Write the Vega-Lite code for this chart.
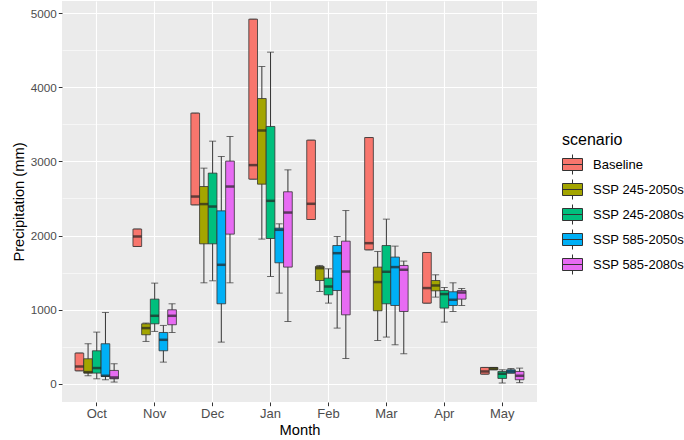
{
  "$schema": "https://vega.github.io/schema/vega-lite/v6.json",
  "width": 475,
  "height": 401,
  "autosize": {"type": "none"},
  "padding": {"left": 62, "top": 1, "right": 147, "bottom": 38},
  "background": "white",
  "config": {
    "font": "Liberation Sans",
    "view": {"fill": "#EBEBEB", "stroke": null}
  },
  "data": {
    "values": [
      {"month": "Oct", "scenario": "Baseline", "lower": 175, "q1": 175, "median": 233, "q3": 414, "upper": 414},
      {"month": "Oct", "scenario": "SSP 245-2050s", "lower": 108, "q1": 144, "median": 157, "q3": 337, "upper": 540},
      {"month": "Oct", "scenario": "SSP 245-2080s", "lower": 67, "q1": 144, "median": 212, "q3": 445, "upper": 697},
      {"month": "Oct", "scenario": "SSP 585-2050s", "lower": 54, "q1": 99, "median": 108, "q3": 540, "upper": 962},
      {"month": "Oct", "scenario": "SSP 585-2080s", "lower": 23, "q1": 67, "median": 85, "q3": 180, "upper": 270},
      {"month": "Nov", "scenario": "Baseline", "lower": 1852, "q1": 1852, "median": 1987, "q3": 2087, "upper": 2087},
      {"month": "Nov", "scenario": "SSP 245-2050s", "lower": 571, "q1": 661, "median": 751, "q3": 809, "upper": 819},
      {"month": "Nov", "scenario": "SSP 245-2080s", "lower": 706, "q1": 809, "median": 917, "q3": 1142, "upper": 1358},
      {"month": "Nov", "scenario": "SSP 585-2050s", "lower": 292, "q1": 445, "median": 593, "q3": 692, "upper": 787},
      {"month": "Nov", "scenario": "SSP 585-2080s", "lower": 692, "q1": 796, "median": 917, "q3": 998, "upper": 1079},
      {"month": "Dec", "scenario": "Baseline", "lower": 2414, "q1": 2414, "median": 2526, "q3": 3651, "upper": 3651},
      {"month": "Dec", "scenario": "SSP 245-2050s", "lower": 1362, "q1": 1888, "median": 2424, "q3": 2661, "upper": 2909},
      {"month": "Dec", "scenario": "SSP 245-2080s", "lower": 1389, "q1": 1888, "median": 2391, "q3": 2842, "upper": 3273},
      {"month": "Dec", "scenario": "SSP 585-2050s", "lower": 562, "q1": 1079, "median": 1605, "q3": 2333, "upper": 3066},
      {"month": "Dec", "scenario": "SSP 585-2080s", "lower": 1362, "q1": 2019, "median": 2661, "q3": 3004, "upper": 3336},
      {"month": "Jan", "scenario": "Baseline", "lower": 2761, "q1": 2761, "median": 2950, "q3": 4918, "upper": 4918},
      {"month": "Jan", "scenario": "SSP 245-2050s", "lower": 1952, "q1": 2693, "median": 3417, "q3": 3848, "upper": 4280},
      {"month": "Jan", "scenario": "SSP 245-2080s", "lower": 1447, "q1": 1960, "median": 2468, "q3": 3471, "upper": 4474},
      {"month": "Jan", "scenario": "SSP 585-2050s", "lower": 1223, "q1": 1632, "median": 2077, "q3": 2100, "upper": 2158},
      {"month": "Jan", "scenario": "SSP 585-2080s", "lower": 840, "q1": 1574, "median": 2310, "q3": 2590, "upper": 2886},
      {"month": "Feb", "scenario": "Baseline", "lower": 2216, "q1": 2216, "median": 2428, "q3": 3286, "upper": 3286},
      {"month": "Feb", "scenario": "SSP 245-2050s", "lower": 1245, "q1": 1393, "median": 1560, "q3": 1582, "upper": 1596},
      {"month": "Feb", "scenario": "SSP 245-2080s", "lower": 1088, "q1": 1200, "median": 1312, "q3": 1425, "upper": 1551},
      {"month": "Feb", "scenario": "SSP 585-2050s", "lower": 751, "q1": 1258, "median": 1762, "q3": 1865, "upper": 1987},
      {"month": "Feb", "scenario": "SSP 585-2080s", "lower": 341, "q1": 930, "median": 1514, "q3": 1924, "upper": 2337},
      {"month": "Mar", "scenario": "Baseline", "lower": 1807, "q1": 1807, "median": 1897, "q3": 3322, "upper": 3322},
      {"month": "Mar", "scenario": "SSP 245-2050s", "lower": 584, "q1": 985, "median": 1372, "q3": 1574, "upper": 1785},
      {"month": "Mar", "scenario": "SSP 245-2080s", "lower": 630, "q1": 1079, "median": 1511, "q3": 1865, "upper": 2221},
      {"month": "Mar", "scenario": "SSP 585-2050s", "lower": 526, "q1": 1056, "median": 1574, "q3": 1709, "upper": 1857},
      {"month": "Mar", "scenario": "SSP 585-2080s", "lower": 405, "q1": 975, "median": 1538, "q3": 1596, "upper": 1655},
      {"month": "Apr", "scenario": "Baseline", "lower": 1088, "q1": 1088, "median": 1291, "q3": 1771, "upper": 1771},
      {"month": "Apr", "scenario": "SSP 245-2050s", "lower": 1169, "q1": 1254, "median": 1326, "q3": 1393, "upper": 1470},
      {"month": "Apr", "scenario": "SSP 245-2080s", "lower": 832, "q1": 1021, "median": 1210, "q3": 1258, "upper": 1299},
      {"month": "Apr", "scenario": "SSP 585-2050s", "lower": 975, "q1": 1056, "median": 1133, "q3": 1241, "upper": 1362},
      {"month": "Apr", "scenario": "SSP 585-2080s", "lower": 1056, "q1": 1142, "median": 1231, "q3": 1258, "upper": 1285},
      {"month": "May", "scenario": "Baseline", "lower": 130, "q1": 130, "median": 166, "q3": 220, "upper": 220},
      {"month": "May", "scenario": "SSP 245-2050s", "lower": 189, "q1": 189, "median": 206, "q3": 220, "upper": 220},
      {"month": "May", "scenario": "SSP 245-2080s", "lower": 10, "q1": 72, "median": 135, "q3": 166, "upper": 189},
      {"month": "May", "scenario": "SSP 585-2050s", "lower": 144, "q1": 144, "median": 166, "q3": 189, "upper": 206},
      {"month": "May", "scenario": "SSP 585-2080s", "lower": 15, "q1": 54, "median": 108, "q3": 166, "upper": 211}
    ]
  },
  "encoding": {
    "x": {
      "field": "month",
      "type": "nominal",
      "sort": ["Oct", "Nov", "Dec", "Jan", "Feb", "Mar", "Apr", "May"],
      "scale": {"paddingInner": 0.25, "paddingOuter": 0.225},
      "axis": {
        "title": "Month",
        "titleFont": "Liberation Sans",
        "titleFontSize": 14.7,
        "titleFontWeight": "normal",
        "titleColor": "#000000",
        "titlePadding": 2,
        "labelFont": "Liberation Sans",
        "labelFontSize": 13,
        "labelColor": "#4D4D4D",
        "labelAngle": 0,
        "labelPadding": 2,
        "bandPosition": 0.5,
        "domain": false,
        "tickColor": "#333333",
        "tickSize": 3.7,
        "grid": true,
        "gridColor": "#FFFFFF",
        "gridWidth": 1.1
      }
    },
    "xOffset": {
      "field": "scenario",
      "type": "nominal",
      "sort": ["Baseline", "SSP 245-2050s", "SSP 245-2080s", "SSP 585-2050s", "SSP 585-2080s"],
      "scale": {"paddingInner": 0, "paddingOuter": 0}
    }
  },
  "layer": [
    {
      "mark": {"type": "rule", "color": "#333333", "strokeWidth": 1},
      "encoding": {
        "y": {
          "field": "lower",
          "type": "quantitative",
          "scale": {"domain": [-246, 5164], "nice": false, "zero": false},
          "axis": {
            "title": "Precipitation (mm)",
            "titleFont": "Liberation Sans",
            "titleFontSize": 14.7,
            "titleFontWeight": "normal",
            "titleColor": "#000000",
            "titlePadding": 4,
            "labelFont": "Liberation Sans",
            "labelFontSize": 11.7,
            "labelColor": "#4D4D4D",
            "labelPadding": 2,
            "values": [0, 500, 1000, 1500, 2000, 2500, 3000, 3500, 4000, 4500, 5000],
            "labelExpr": "datum.value % 1000 === 0 ? datum.label : ''",
            "format": "d",
            "domain": false,
            "tickColor": "#333333",
            "tickSize": 3.7,
            "tickOpacity": {"condition": {"test": "datum.value % 1000 === 0", "value": 1}, "value": 0},
            "grid": true,
            "gridColor": "#FFFFFF",
            "gridWidth": {"condition": {"test": "datum.value % 1000 === 0", "value": 1.1}, "value": 0.55}
          }
        },
        "y2": {"field": "upper"}
      }
    },
    {
      "mark": {"type": "tick", "color": "#333333", "thickness": 1, "size": 7},
      "encoding": {"y": {"field": "lower", "type": "quantitative"}}
    },
    {
      "mark": {"type": "tick", "color": "#333333", "thickness": 1, "size": 7},
      "encoding": {"y": {"field": "upper", "type": "quantitative"}}
    },
    {
      "mark": {"type": "bar", "stroke": "#333333", "strokeWidth": 0.8},
      "encoding": {
        "y": {"field": "q1", "type": "quantitative"},
        "y2": {"field": "q3"},
        "fill": {
          "field": "scenario",
          "type": "nominal",
          "sort": ["Baseline", "SSP 245-2050s", "SSP 245-2080s", "SSP 585-2050s", "SSP 585-2080s"],
          "scale": {
            "domain": ["Baseline", "SSP 245-2050s", "SSP 245-2080s", "SSP 585-2050s", "SSP 585-2080s"],
            "range": ["#F8766D", "#A3A500", "#00BF7D", "#00B0F6", "#E76BF3"]
          },
          "legend": {
            "title": "scenario",
            "orient": "none",
            "legendX": 500,
            "legendY": 131,
            "titleFont": "Liberation Sans",
            "titleFontSize": 16,
            "titleFontWeight": "normal",
            "titleColor": "#000000",
            "titlePadding": 6,
            "labelFont": "Liberation Sans",
            "labelFontSize": 13,
            "labelColor": "#000000",
            "labelOffset": 10,
            "symbolType": "M-1,-0.6H1V0.6H-1Z M-1,0H1 M0,-1V-0.6 M0,0.6V1",
            "symbolSize": 400,
            "symbolStrokeColor": "#333333",
            "symbolStrokeWidth": 1,
            "symbolOpacity": 1,
            "rowPadding": 0,
            "offset": 0
          }
        }
      }
    },
    {
      "mark": {"type": "tick", "color": "#222222", "thickness": 2.5, "size": 8.6},
      "encoding": {"y": {"field": "median", "type": "quantitative"}}
    }
  ]
}
